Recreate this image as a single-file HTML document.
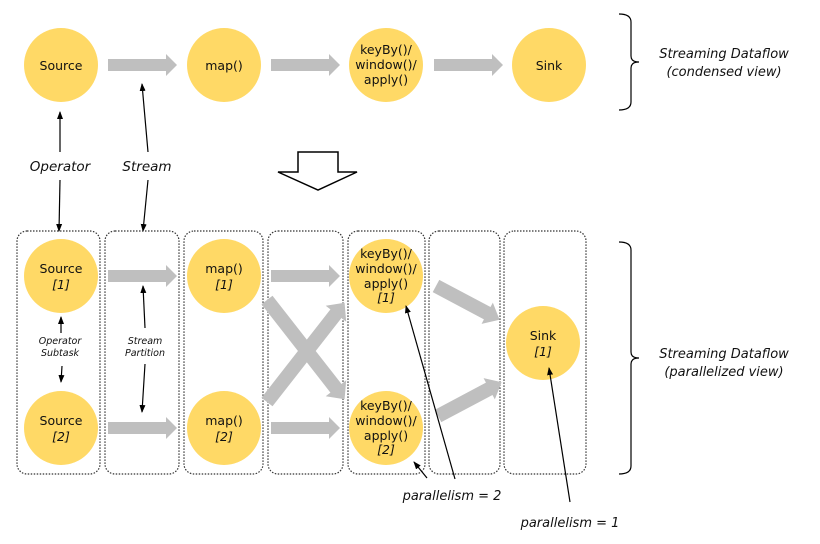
<!DOCTYPE html>
<html><head><meta charset="utf-8"><style>
html,body{margin:0;padding:0;background:#fff}
svg{display:block}
text{font-family:"DejaVu Sans","Liberation Sans",sans-serif;fill:#111}
.c{fill:#ffd966}
.t{font-size:12.5px;text-anchor:middle}
.i{font-style:italic}
.box{fill:none;stroke:#333;stroke-width:1.2;stroke-dasharray:1.5 1.5}
.ln{stroke:#000;stroke-width:1.2;fill:none}
</style></head><body>
<svg width="820" height="544" viewBox="0 0 820 544" xmlns="http://www.w3.org/2000/svg">
<defs>
<marker id="ah" markerWidth="8" markerHeight="8" refX="7" refY="4" orient="auto" markerUnits="userSpaceOnUse">
<path d="M0,1 L8,4 L0,7 z" fill="#000"/>
</marker>
<g id="ga"><path d="M0,-6 L58,-6 L58,-11 L69,0 L58,11 L58,6 L0,6 z" fill="#bfbfbf"/></g>
<g id="gx"><path d="M0,-7 L112,-7 L112,-13 L126,0 L112,13 L112,7 L0,7 z" fill="#bfbfbf"/></g>
<g id="gs"><path d="M0,-7 L58,-7 L58,-12 L72,0 L58,12 L58,7 L0,7 z" fill="#bfbfbf"/></g>
</defs>

<!-- top row -->
<circle class="c" cx="61" cy="65" r="37"/>
<circle class="c" cx="224" cy="65" r="37"/>
<circle class="c" cx="386" cy="65" r="37"/>
<circle class="c" cx="549" cy="65" r="37"/>
<text class="t" x="61" y="70">Source</text>
<text class="t" x="224" y="70">map()</text>
<text class="t" x="386" y="54">keyBy()/</text>
<text class="t" x="386" y="69">window()/</text>
<text class="t" x="386" y="84">apply()</text>
<text class="t" x="549" y="70">Sink</text>
<use href="#ga" x="108" y="65"/>
<use href="#ga" x="271" y="65"/>
<use href="#ga" x="434" y="65"/>

<!-- top brace -->
<path class="ln" d="M619,14 Q631,14 631,22 L631,56 Q631,62 639,62 Q631,62 631,68 L631,102 Q631,110 619,110"/>
<text class="t i" x="724" y="58" style="font-size:13px">Streaming Dataflow</text>
<text class="t i" x="724" y="76" style="font-size:13px">(condensed view)</text>

<!-- labels -->
<text class="t i" x="60" y="171" style="font-size:13.5px">Operator</text>
<text class="t i" x="147" y="171" style="font-size:13.5px">Stream</text>
<line class="ln" x1="60" y1="152" x2="60" y2="112" marker-end="url(#ah)"/>
<line class="ln" x1="60" y1="180" x2="59" y2="231" marker-end="url(#ah)"/>
<line class="ln" x1="148" y1="152" x2="142" y2="84" marker-end="url(#ah)"/>
<line class="ln" x1="148" y1="180" x2="143" y2="231" marker-end="url(#ah)"/>

<!-- hollow arrow -->
<path d="M298,152 L338,152 L338,172 L357,172 L318,190 L278,172 L298,172 z" fill="#fff" stroke="#000" stroke-width="1.5"/>

<!-- boxes -->
<rect class="box" x="17" y="231" width="83" height="243" rx="10"/>
<rect class="box" x="105" y="231" width="74" height="243" rx="10"/>
<rect class="box" x="184" y="231" width="79" height="243" rx="10"/>
<rect class="box" x="268" y="231" width="75" height="243" rx="10"/>
<rect class="box" x="348" y="231" width="77" height="243" rx="10"/>
<rect class="box" x="429" y="231" width="71" height="243" rx="10"/>
<rect class="box" x="504" y="231" width="82" height="243" rx="10"/>

<!-- gray arrows bottom -->
<use href="#ga" x="108" y="276"/>
<use href="#ga" x="108" y="428"/>
<use href="#ga" x="271" y="276"/>
<use href="#ga" x="271" y="428"/>
<use href="#gx" transform="translate(267,402) rotate(-52)"/>
<use href="#gx" transform="translate(267,300) rotate(52)"/>
<use href="#gs" transform="translate(436,286) rotate(28)"/>
<use href="#gs" transform="translate(438,416) rotate(-28)"/>

<!-- bottom circles -->
<circle class="c" cx="61" cy="276" r="37"/>
<circle class="c" cx="61" cy="428" r="37"/>
<circle class="c" cx="224" cy="276" r="37"/>
<circle class="c" cx="224" cy="428" r="37"/>
<circle class="c" cx="386" cy="276" r="37"/>
<circle class="c" cx="386" cy="428" r="37"/>
<circle class="c" cx="543" cy="343" r="37"/>
<text class="t" x="61" y="273">Source</text><text class="t i" x="61" y="289">[1]</text>
<text class="t" x="61" y="425">Source</text><text class="t i" x="61" y="441">[2]</text>
<text class="t" x="224" y="273">map()</text><text class="t i" x="224" y="289">[1]</text>
<text class="t" x="224" y="425">map()</text><text class="t i" x="224" y="441">[2]</text>
<text class="t" x="386" y="258">keyBy()/</text>
<text class="t" x="386" y="273">window()/</text>
<text class="t" x="386" y="288">apply()</text>
<text class="t i" x="386" y="302">[1]</text>
<text class="t" x="386" y="410">keyBy()/</text>
<text class="t" x="386" y="425">window()/</text>
<text class="t" x="386" y="440">apply()</text>
<text class="t i" x="386" y="454">[2]</text>
<text class="t" x="543" y="340">Sink</text><text class="t i" x="543" y="356">[1]</text>

<!-- subtask labels -->
<text class="t i" x="60" y="344" style="font-size:9.5px">Operator</text>
<text class="t i" x="60" y="356" style="font-size:9.5px">Subtask</text>
<line class="ln" x1="61" y1="333" x2="61" y2="317" marker-end="url(#ah)"/>
<line class="ln" x1="62" y1="366" x2="61" y2="382" marker-end="url(#ah)"/>
<text class="t i" x="145" y="344" style="font-size:9.5px">Stream</text>
<text class="t i" x="145" y="356" style="font-size:9.5px">Partition</text>
<line class="ln" x1="145" y1="328" x2="143" y2="286" marker-end="url(#ah)"/>
<line class="ln" x1="145" y1="364" x2="142" y2="412" marker-end="url(#ah)"/>

<!-- bottom brace -->
<path class="ln" d="M619,242 Q631,242 631,250 L631,352 Q631,358 639,358 Q631,358 631,364 L631,466 Q631,474 619,474"/>
<text class="t i" x="724" y="358" style="font-size:13px">Streaming Dataflow</text>
<text class="t i" x="724" y="376" style="font-size:13px">(parallelized view)</text>

<!-- parallelism -->
<text class="t i" x="452" y="500" style="font-size:13px">parallelism = 2</text>
<text class="t i" x="570" y="527" style="font-size:13px">parallelism = 1</text>
<line class="ln" x1="455" y1="479" x2="406" y2="306" marker-end="url(#ah)"/>
<line class="ln" x1="427" y1="478" x2="414" y2="462" marker-end="url(#ah)"/>
<line class="ln" x1="570" y1="502" x2="549" y2="368" marker-end="url(#ah)"/>
</svg>
</body></html>
